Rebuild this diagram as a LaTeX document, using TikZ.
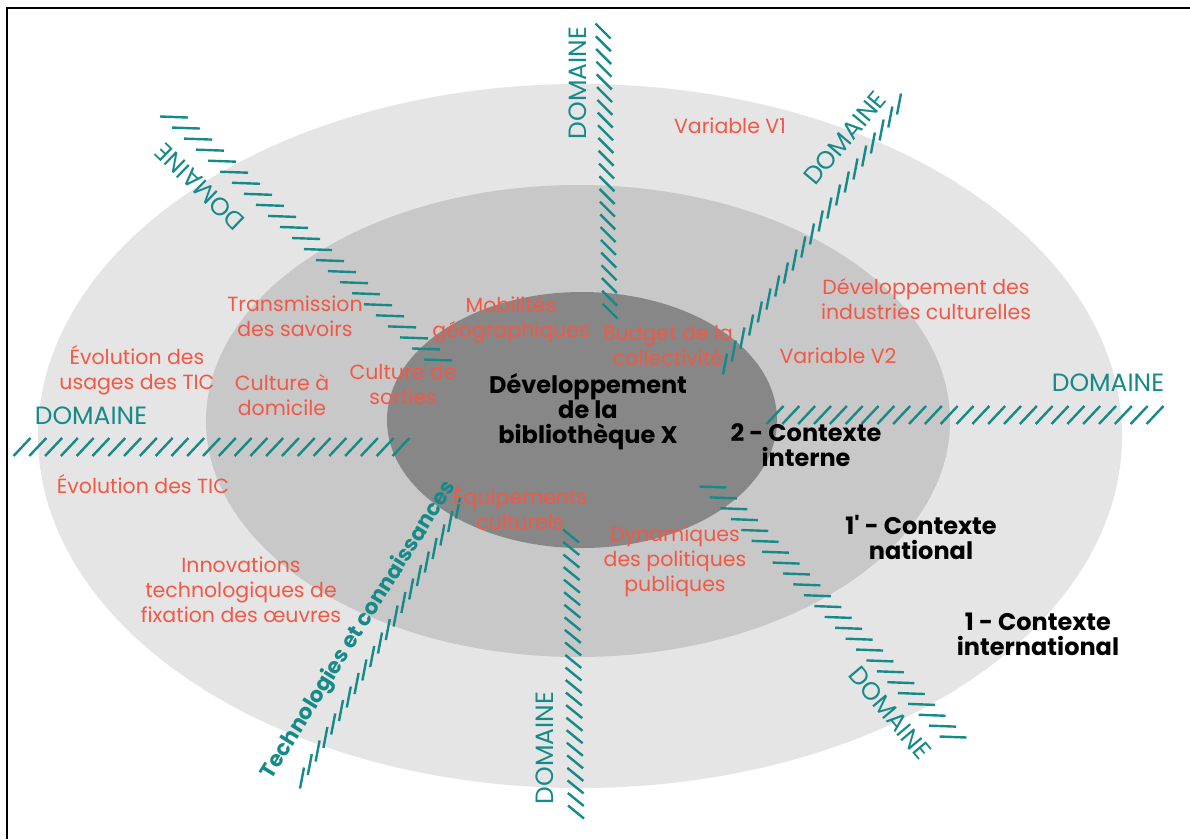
\documentclass[tikz,border=0pt]{standalone}
\usepackage{fontspec}
\setmainfont{Poppins}
\usetikzlibrary{calc}
\definecolor{teal1}{RGB}{22,137,137}
\definecolor{red1}{RGB}{242,88,70}
\definecolor{g1}{RGB}{229,229,229}
\definecolor{g2}{RGB}{200,200,200}
\definecolor{g3}{RGB}{135,135,135}
\newcommand{\hatchband}[7]{%
  \foreach \k in {0,...,#5}{%
    \pgfmathsetmacro{\tpos}{\k/#5}%
    \pgfmathsetmacro{\hx}{-0.5*(#6)}%
    \pgfmathsetmacro{\hy}{-0.5*(#7)}%
    \draw[hatch] ($(#1,#2)!\tpos!(#3,#4)$) ++(\hx,\hy) -- ++(#6,#7);
  }}
\begin{document}
\begin{tikzpicture}[x=1pt,y=-1pt,
  redtxt/.style={text=red1, font=\fontsize{20.5}{25}\selectfont, align=center, inner sep=0pt},
  blktxt/.style={text=black, font=\fontsize{24}{25}\selectfont\bfseries, align=center, inner sep=0pt},
  domtxt/.style={text=teal1, font=\fontsize{25}{28}\selectfont, inner sep=0pt},
  hatch/.style={draw=teal1, line width=2.4pt},
  frame/.style={draw=black, line width=2pt}]
\useasboundingbox (0,0) rectangle (1190,839);
\fill[white] (0,0) rectangle (1190,839);
% frame
\coordinate (ftl) at (7,7.5);
\coordinate (ftr) at (1190,7.5);
\coordinate (fbl) at (7,839);
\draw[frame] (ftr) -- (ftl) -- (fbl);
% ellipses
\fill[g1] (580,436) ellipse [x radius=542, y radius=352];
\fill[g2] (578,421) ellipse [x radius=372, y radius=236];
\fill[g3] (582,420) ellipse [x radius=195, y radius=128];
% hatched bands
\hatchband{603}{31}{610}{311}{22}{15}{15}
\hatchband{571}{536}{576}{812}{22}{16}{13}
\hatchband{725}{364}{899}{104}{20}{4}{-21}
\hatchband{775}{415}{1155}{415}{24}{17}{-18}
\hatchband{713}{487}{953}{737}{23}{27}{1}
\hatchband{22}{447}{401}{447}{24}{17}{-18}
\hatchband{174}{117}{438}{360}{22}{28}{1}
\hatchband{302}{778}{458}{508}{20}{4}{-21}
% DOMAINE labels
\node[domtxt, rotate=90] (dT) at (578,83) {DOMAINE};
\node[domtxt, rotate=50] (dTR) at (845,138) {DOMAINE};
\node[domtxt] (dR) at (1108,383) {DOMAINE};
\node[domtxt, rotate=-50] (dBR) at (890,713) {DOMAINE};
\node[domtxt, rotate=90] (dB) at (545,748) {DOMAINE};
\node[domtxt] (dL) at (91,416) {DOMAINE};
\node[domtxt, rotate=136] (dTL) at (200,187) {DOMAINE};
\node[text=teal1, font=\fontsize{21.5}{24}\selectfont\bfseries, inner sep=0pt, rotate=58] (tech) at (359,630) {Technologies et connaissances};
% red texts
\node[redtxt] (v1) at (730,126) {Variable V1};
\node[redtxt] (dic) at (926,299) {Développement des\\industries culturelles};
\node[redtxt] (v2) at (838,356) {Variable V2};
\node[redtxt] (trans) at (295,316) {Transmission\\des savoirs};
\node[redtxt] (mob) at (511,320) {Mobilités\\géographiques};
\node[redtxt] (budg) at (668,345) {Budget de la\\collectivité};
\node[redtxt] (evo) at (137,370) {Évolution des\\usages des TIC};
\node[redtxt] (cdom) at (282,395) {Culture à\\domicile};
\node[redtxt] (csor) at (403,384) {Culture de\\sorties};
\node[redtxt] (etic) at (143,484) {Évolution des TIC};
\node[redtxt] (equi) at (520,508) {Équipements\\culturels};
\node[redtxt] (dyn) at (675,561) {Dynamiques\\des politiques\\publiques};
\node[redtxt] (inno) at (241,590) {Innovations\\technologiques de\\fixation des œuvres};
% black texts
\node[blktxt] (dev) at (588,412) {Développement\\de la\\bibliothèque X};
\node[blktxt] (c2) at (806,445) {2 - Contexte\\interne};
\node[blktxt] (c1p) at (921,537) {1\textquotesingle{} - Contexte\\national};
\node[blktxt] (c1) at (1038,634) {1 - Contexte\\international};
\end{tikzpicture}
\end{document}
